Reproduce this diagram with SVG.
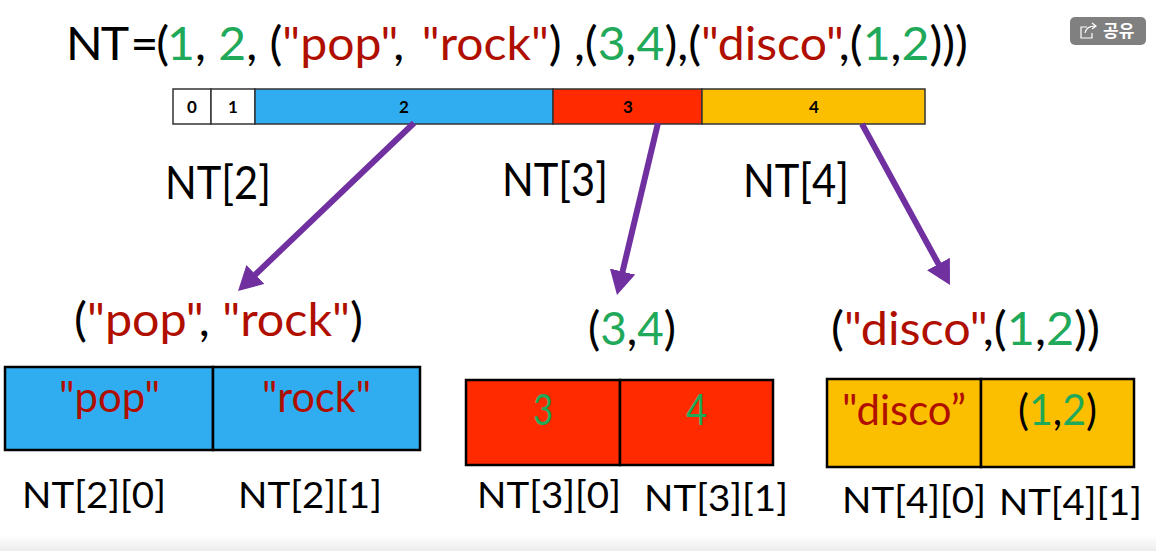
<svg xmlns="http://www.w3.org/2000/svg" width="1156" height="551" viewBox="0 0 1156 551">
<defs>
<linearGradient id="fade" x1="0" y1="0" x2="0" y2="1"><stop offset="0" stop-color="#fff"/><stop offset="1" stop-color="#ececec"/></linearGradient>
<marker id="arrow" markerUnits="userSpaceOnUse" markerWidth="28" markerHeight="28" refX="8" refY="13" orient="auto"><path d="M0 0L24 13L0 26Z" fill="#7030A0"/></marker>
</defs>
<style>
text{font-family:Lato,"Liberation Sans",sans-serif;fill:#000}
.r{fill:#B00F00}.g{fill:#21A95A}
.t{font-size:46px}.m{font-size:42px}.s{font-size:37px}
.n{font-size:17px;font-weight:700;text-anchor:middle}
.bar{stroke:#333;stroke-width:1.5}
.box{stroke:#000;stroke-width:2.5}
.blue{fill:#30ADF0}.red{fill:#FF2A00}.yel{fill:#FCBF00}
.c{stroke:#7030A0;stroke-width:6;fill:none;marker-end:url(#arrow)}
</style>
<rect width="1156" height="551" fill="#fff"/>
<rect y="535" width="1156" height="16" fill="url(#fade)"/>
<g id="title"><text class="t" x="66" y="60" textLength="902" lengthAdjust="spacingAndGlyphs"><tspan letter-spacing="-2">NT <tspan dx="-5">=(</tspan></tspan><tspan class="g">1</tspan>, <tspan class="g">2</tspan>, (<tspan class="r">"pop"</tspan>, <tspan class="r" dx="5">"rock"</tspan>) ,(<tspan class="g">3</tspan>,<tspan class="g">4</tspan>),(<tspan class="r">"disco"</tspan>,(<tspan class="g">1</tspan>,<tspan class="g">2</tspan>)))</text></g>
<g id="share"><rect x="1070" y="17" width="76" height="28" rx="5" fill="#808080"/><path d="M1087 27h-6v11h11v-5M1085 33c1-5 4-7 10-7M1092 23l4 3-4 3" fill="none" stroke="#fff" stroke-width="1.2"/><text x="1103" y="37" font-size="17" font-weight="700" style="fill:#fff;font-family:'Noto Sans CJK KR',sans-serif">공유</text></g>
<g id="bar">
<rect class="bar" x="173" y="89" width="38" height="35" fill="#fff"/><rect class="bar" x="211" y="89" width="44" height="35" fill="#fff"/>
<rect class="bar blue" x="255" y="89" width="298" height="35"/><rect class="bar red" x="553" y="89" width="149" height="35"/><rect class="bar yel" x="702" y="89" width="223" height="35"/>
<text class="n" x="192" y="113">0</text><text class="n" x="233" y="113">1</text><text class="n" x="404" y="113">2</text><text class="n" x="628" y="113">3</text><text class="n" x="814" y="113">4</text>
</g>
<g id="connectors">
<line class="c" x1="414" y1="123" x2="249.6" y2="280"/><line class="c" x1="658" y1="123" x2="620.7" y2="279.4"/><line class="c" x1="862" y1="124" x2="942.3" y2="271"/>
</g>
<g id="labels">
<text class="t" x="165" y="199" textLength="106" lengthAdjust="spacingAndGlyphs">NT[2]</text>
<text class="t" x="502" y="196" textLength="106" lengthAdjust="spacingAndGlyphs">NT[3]</text>
<text class="t" x="743" y="197" textLength="106" lengthAdjust="spacingAndGlyphs">NT[4]</text>
</g>
<g id="tuple-pop-rock">
<text class="t" x="74" y="336" textLength="289" lengthAdjust="spacingAndGlyphs">(<tspan class="r">"pop"</tspan>, <tspan class="r">"rock"</tspan>)</text>
<rect class="box blue" x="5" y="367" width="208" height="83"/><rect class="box blue" x="213" y="367" width="207" height="83"/>
<text class="m r" x="59" y="412" textLength="101" lengthAdjust="spacingAndGlyphs">"pop"</text><text class="m r" x="262" y="412" textLength="109" lengthAdjust="spacingAndGlyphs">"rock"</text>
<text class="s" x="22" y="508" textLength="144" lengthAdjust="spacingAndGlyphs">NT[2][0]</text><text class="s" x="238" y="508" textLength="144" lengthAdjust="spacingAndGlyphs">NT[2][1]</text>
</g>
<g id="tuple-3-4">
<text class="t" x="588" y="345" textLength="88" lengthAdjust="spacingAndGlyphs">(<tspan class="g">3</tspan>,<tspan class="g">4</tspan>)</text>
<rect class="box red" x="466" y="380" width="154" height="85"/><rect class="box red" x="620" y="380" width="153" height="85"/>
<text class="m g" x="533" y="425" textLength="20" lengthAdjust="spacingAndGlyphs">3</text><text class="m g" x="686" y="425" textLength="21" lengthAdjust="spacingAndGlyphs">4</text>
<text class="s" x="477" y="508" textLength="144" lengthAdjust="spacingAndGlyphs">NT[3][0]</text><text class="s" x="644" y="511" textLength="144" lengthAdjust="spacingAndGlyphs">NT[3][1]</text>
</g>
<g id="tuple-disco">
<text class="t" x="831" y="345" textLength="269" lengthAdjust="spacingAndGlyphs">(<tspan class="r">"disco"</tspan>,(<tspan class="g">1</tspan>,<tspan class="g">2</tspan>))</text>
<rect class="box yel" x="827" y="379" width="154" height="88"/><rect class="box yel" x="981" y="379" width="153" height="88"/>
<text class="m r" x="842" y="425" textLength="124" lengthAdjust="spacingAndGlyphs">"disco”</text>
<text class="m" x="1018" y="425" textLength="79" lengthAdjust="spacingAndGlyphs">(<tspan class="g">1</tspan>,<tspan class="g">2</tspan>)</text>
<text class="s" x="842" y="513" textLength="144" lengthAdjust="spacingAndGlyphs">NT[4][0]</text><text class="s" x="999" y="515" textLength="143" lengthAdjust="spacingAndGlyphs">NT[4][1]</text>
</g>
</svg>
